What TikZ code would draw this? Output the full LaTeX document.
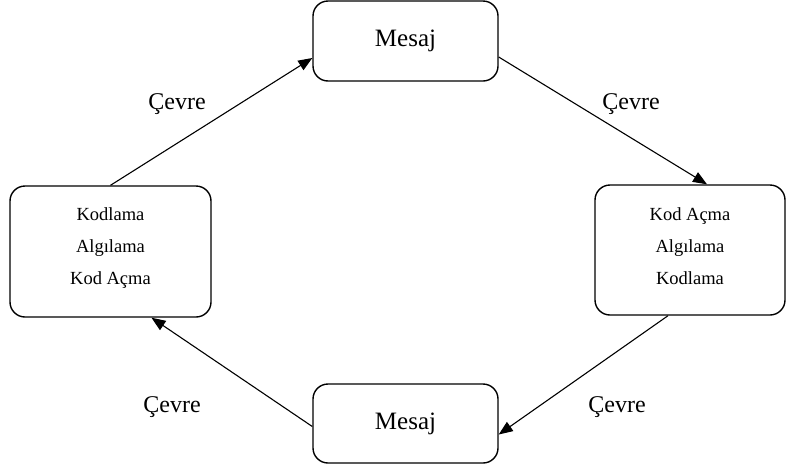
\documentclass[tikz,border=0pt]{standalone}
\usepackage{fontspec}
\setmainfont{Liberation Serif}
\usetikzlibrary{arrows.meta}
\begin{document}
\begin{tikzpicture}[x=1pt,y=-1pt,
  box/.style={draw,line width=1.4pt,rounded corners=15pt,inner sep=0pt},
  conn/.style={line width=1.1pt,-{Triangle[length=14pt,width=11pt]}},
  lbl/.style={font=\fontsize{24}{28}\selectfont},
  big/.style={font=\fontsize{25}{30}\selectfont},
  small/.style={align=center,font=\fontsize{18.5}{32}\selectfont}]
\useasboundingbox (0,0) rectangle (786,472);
\node[box,minimum width=185pt,minimum height=80pt,big] (T) at (405.5,41) {Mesaj};
\node[box,minimum width=185pt,minimum height=79pt,big] (B) at (405.5,423.5) {Mesaj};
\node[box,minimum width=201pt,minimum height=131pt] (L) at (110.5,251.5) {};
\node[box,minimum width=190pt,minimum height=130pt] (R) at (690,250) {};
\node[small] (Lt) at ([yshift=3pt]L.center) {Kodlama\\Algılama\\Kod Açma};
\node[small] (Rt) at ([yshift=4pt]R.center) {Kod Açma\\Algılama\\Kodlama};
\draw[conn] (L.north) -- ([yshift=-17pt]T.west);
\draw[conn] ([yshift=-16pt]T.east) -- ([xshift=17pt]R.north);
\draw[conn] ([xshift=-22pt]R.south) -- ([yshift=-11pt]B.east);
\draw[conn] ([yshift=-3pt]B.west) -- ([xshift=41pt]L.south);
\node[lbl] (c1) at (177,104) {Çevre};
\node[lbl] (c2) at (631,104) {Çevre};
\node[lbl] (c3) at (172,407) {Çevre};
\node[lbl] (c4) at (617,407) {Çevre};
\end{tikzpicture}
\end{document}
